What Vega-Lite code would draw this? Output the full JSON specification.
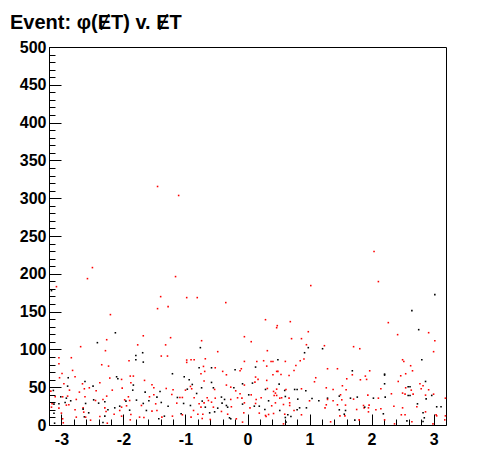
{
"$schema": "https://vega.github.io/schema/vega-lite/v6.json",
"width": 397, "height": 378,
"autosize": {"type": "none"},
"padding": {"left": 49, "top": 47, "right": 50, "bottom": 47},
"background": "white",
"title": {"text": "Event: φ(ɆT) v. ɆT", "anchor": "start", "frame": "group", "dx": -39, "offset": 6, "font": "Liberation Sans", "fontSize": 20, "fontWeight": "bold", "color": "black"},
"data": {"values": [
{"x":-3.08,"y":183,"c":"r"},{"x":-3.16,"y":177.7,"c":"k"},{"x":-1.40,"y":169.8,"c":"r"},{"x":-1.28,"y":156.6,"c":"r"},{"x":-1.45,"y":153.9,"c":"r"},{"x":-2.21,"y":146,"c":"r"},{"x":-2.13,"y":122,"c":"k"},{"x":-1.68,"y":118,"c":"r"},{"x":-2.27,"y":112.8,"c":"r"},{"x":-2.42,"y":108.9,"c":"k"},{"x":-1.24,"y":115.5,"c":"r"},{"x":-1.77,"y":106,"c":"r"},{"x":-1.32,"y":106,"c":"r"},{"x":-2.69,"y":103.6,"c":"r"},{"x":-2.29,"y":98.3,"c":"r"},{"x":-1.69,"y":95.6,"c":"k"},
{"x":-1.45,"y":315.5,"c":"r"},{"x":-1.11,"y":303.6,"c":"r"},{"x":2.04,"y":229.4,"c":"r"},{"x":-2.50,"y":208.2,"c":"r"},{"x":-2.58,"y":193.6,"c":"r"},{"x":-1.16,"y":196.3,"c":"r"},{"x":1.02,"y":184.4,"c":"r"},{"x":2.11,"y":189.7,"c":"r"},
{"x":-0.98,"y":168.5,"c":"r"},{"x":-0.81,"y":168.5,"c":"r"},{"x":-0.35,"y":161.9,"c":"r"},{"x":0.29,"y":139.3,"c":"r"},{"x":0.48,"y":131.4,"c":"r"},{"x":0.47,"y":128.7,"c":"r"},{"x":0.69,"y":136.7,"c":"r"},{"x":0.98,"y":123.4,"c":"r"},{"x":-0.05,"y":116.8,"c":"r"},{"x":0.06,"y":110.2,"c":"r"},{"x":-0.74,"y":111.5,"c":"r"},{"x":0.71,"y":114.2,"c":"r"},{"x":0.87,"y":114.2,"c":"r"},{"x":0.95,"y":106.2,"c":"r"},{"x":-0.76,"y":102.3,"c":"k"},{"x":-0.48,"y":97,"c":"r"},{"x":0.32,"y":98.3,"c":"r"},{"x":0.98,"y":102.3,"c":"k"},{"x":0.92,"y":95.6,"c":"k"},
{"x":3.02,"y":172.4,"c":"k"},{"x":2.65,"y":151.3,"c":"k"},{"x":2.27,"y":135.4,"c":"r"},{"x":2.76,"y":126.1,"c":"k"},{"x":2.92,"y":122.1,"c":"r"},{"x":2.42,"y":119.5,"c":"r"},{"x":3.02,"y":111.5,"c":"r"},{"x":1.24,"y":104.9,"c":"r"},{"x":1.21,"y":100.9,"c":"k"},{"x":1.71,"y":103.6,"c":"r"},{"x":1.81,"y":100.9,"c":"r"},{"x":3.0,"y":97,"c":"r"},
{"x":-3.04,"y":89,"c":"r"},{"x":-2.84,"y":89,"c":"r"},{"x":-3.04,"y":81,"c":"r"},{"x":-1.80,"y":92,"c":"k"},{"x":-1.80,"y":86.3,"c":"k"},{"x":-1.68,"y":83.2,"c":"k"},{"x":-1.39,"y":91.2,"c":"r"},{"x":-1.29,"y":91.2,"c":"r"},{"x":-1.91,"y":85,"c":"r"},{"x":-2.35,"y":79.7,"c":"r"},{"x":-2.24,"y":77.9,"c":"r"},{"x":-2.82,"y":72.2,"c":"r"},{"x":-2.99,"y":68.2,"c":"r"},{"x":-2.89,"y":62.5,"c":"k"},{"x":-2.78,"y":63.8,"c":"r"},{"x":-3.03,"y":62.5,"c":"r"},{"x":-2.11,"y":63.8,"c":"k"},{"x":-2.09,"y":61.1,"c":"k"},{"x":-2.22,"y":62.1,"c":"r"},{"x":-1.89,"y":64.7,"c":"r"},{"x":-1.84,"y":64.7,"c":"r"},{"x":-1.21,"y":67.8,"c":"k"},{"x":-2.62,"y":57.6,"c":"k"},{"x":-2.49,"y":51.4,"c":"k"},{"x":-2.96,"y":54.5,"c":"r"},{"x":-2.66,"y":54.5,"c":"r"},{"x":-2.38,"y":55.8,"c":"r"},{"x":-2.03,"y":60.3,"c":"r"},{"x":-1.88,"y":55.8,"c":"r"},{"x":-1.66,"y":59,"c":"r"},{"x":-1.84,"y":52.8,"c":"k"},{"x":-1.54,"y":53.2,"c":"r"},{"x":-1.51,"y":49.2,"c":"r"},{"x":-3.13,"y":45.7,"c":"k"},{"x":-3.17,"y":44.8,"c":"r"},{"x":-2.90,"y":51.4,"c":"k"},{"x":-2.87,"y":46.1,"c":"r"},{"x":-2.71,"y":43.5,"c":"r"},{"x":-2.63,"y":47.9,"c":"r"},{"x":-2.55,"y":49.2,"c":"r"},{"x":-2.44,"y":45.2,"c":"r"},{"x":-2.18,"y":46.1,"c":"r"},{"x":-2.02,"y":48.8,"c":"r"},{"x":-1.85,"y":46.1,"c":"k"},{"x":-1.65,"y":43.5,"c":"k"},{"x":-1.41,"y":44.4,"c":"k"},{"x":-1.31,"y":48.3,"c":"r"},{"x":-1.20,"y":46.6,"c":"r"},{"x":-1.22,"y":40.4,"c":"r"},{"x":-1.58,"y":37.3,"c":"r"},{"x":-1.51,"y":40,"c":"r"},{"x":-1.46,"y":36.9,"c":"k"},{"x":-1.13,"y":36.4,"c":"k"},{"x":-3.10,"y":37.3,"c":"r"},{"x":-3.01,"y":37.3,"c":"k"},{"x":-2.98,"y":37.3,"c":"r"},{"x":-2.92,"y":35.5,"c":"k"},{"x":-2.90,"y":38.2,"c":"r"},{"x":-2.76,"y":33.8,"c":"r"},{"x":-2.62,"y":37.3,"c":"r"},{"x":-1.92,"y":37.3,"c":"r"},{"x":-1.79,"y":32.9,"c":"k"},{"x":-2.27,"y":38.2,"c":"r"},{"x":-2.94,"y":29.8,"c":"k"},{"x":-2.85,"y":32,"c":"k"},{"x":-2.48,"y":33.3,"c":"k"},{"x":-2.45,"y":32.4,"c":"r"},{"x":-2.33,"y":33.8,"c":"r"},{"x":-1.98,"y":33.3,"c":"r"},{"x":-1.96,"y":31.6,"c":"k"},{"x":-1.90,"y":32.4,"c":"r"},{"x":-1.59,"y":32,"c":"k"},{"x":-1.14,"y":28.9,"c":"r"},{"x":-1.39,"y":29.8,"c":"k"},{"x":-2.30,"y":30.7,"c":"k"},{"x":-2.40,"y":28.9,"c":"k"},{"x":-2.65,"y":22.7,"c":"r"},{"x":-3.15,"y":28,"c":"r"},{"x":-3.12,"y":27.6,"c":"k"},{"x":-3.04,"y":28,"c":"k"},{"x":-2.92,"y":26.3,"c":"r"},{"x":-2.88,"y":26.7,"c":"r"},{"x":-3.04,"y":22.3,"c":"r"},{"x":-2.61,"y":28.5,"c":"k"},{"x":-2.14,"y":22.7,"c":"k"},{"x":-2.30,"y":22.7,"c":"r"},{"x":-1.95,"y":25.4,"c":"r"},{"x":-2.06,"y":24.9,"c":"k"},{"x":-2.03,"y":23.6,"c":"r"},{"x":-1.71,"y":25.8,"c":"r"},{"x":-1.68,"y":28.5,"c":"k"},{"x":-1.48,"y":28,"c":"r"},{"x":-1.28,"y":24.9,"c":"k"},{"x":-3.16,"y":23.6,"c":"r"},{"x":-2.78,"y":20.1,"c":"r"},{"x":-3.00,"y":15.7,"c":"r"},{"x":-3.12,"y":15.6,"c":"k"},{"x":-2.65,"y":21,"c":"k"},{"x":-2.64,"y":17,"c":"r"},{"x":-2.56,"y":16.1,"c":"k"},{"x":-2.25,"y":20.1,"c":"k"},{"x":-2.28,"y":17.9,"c":"r"},{"x":-2.15,"y":14.3,"c":"r"},{"x":-2.06,"y":19.2,"c":"r"},{"x":-1.90,"y":19.6,"c":"k"},{"x":-1.88,"y":13.9,"c":"r"},{"x":-1.63,"y":19.2,"c":"k"},{"x":-1.54,"y":18.3,"c":"r"},{"x":-1.46,"y":19.2,"c":"r"},{"x":-1.21,"y":11.7,"c":"r"},{"x":-2.76,"y":10.4,"c":"r"},{"x":-2.63,"y":10.8,"c":"k"},{"x":-2.61,"y":10.4,"c":"r"},{"x":-2.38,"y":11.3,"c":"r"},{"x":-2.30,"y":11.7,"c":"k"},{"x":-2.03,"y":11.7,"c":"r"},{"x":-1.74,"y":10.4,"c":"r"},{"x":-1.67,"y":9.9,"c":"r"},{"x":-1.34,"y":11.7,"c":"k"},{"x":-1.38,"y":10.4,"c":"r"},{"x":-1.43,"y":8.2,"c":"k"},{"x":-2.98,"y":8.2,"c":"r"},{"x":-2.97,"y":2.9,"c":"r"},{"x":-3.11,"y":2.4,"c":"k"},{"x":-2.53,"y":6.4,"c":"r"},{"x":-2.33,"y":3.3,"c":"k"},{"x":-2.26,"y":2.4,"c":"r"},{"x":-1.89,"y":6.8,"c":"r"},
{"x":-0.98,"y":85.9,"c":"r"},{"x":-0.98,"y":82.8,"c":"r"},{"x":-0.91,"y":86.3,"c":"r"},{"x":-0.86,"y":86.3,"c":"r"},{"x":-0.68,"y":87.6,"c":"r"},{"x":-0.05,"y":84.1,"c":"r"},{"x":0.15,"y":84.1,"c":"r"},{"x":0.26,"y":85,"c":"r"},{"x":0.38,"y":84.1,"c":"r"},{"x":0.41,"y":84.1,"c":"r"},{"x":0.49,"y":86.3,"c":"k"},{"x":0.61,"y":84.1,"c":"r"},{"x":0.85,"y":85,"c":"r"},{"x":0.91,"y":87.2,"c":"r"},{"x":0.78,"y":78.8,"c":"r"},{"x":-0.78,"y":75.7,"c":"k"},{"x":-0.71,"y":77.5,"c":"r"},{"x":-0.58,"y":75.7,"c":"k"},{"x":-0.52,"y":75.7,"c":"r"},{"x":-0.75,"y":67.8,"c":"r"},{"x":-0.69,"y":70.9,"c":"r"},{"x":-0.40,"y":70.9,"c":"r"},{"x":-0.20,"y":73.1,"c":"k"},{"x":-0.12,"y":71.7,"c":"r"},{"x":-0.10,"y":74.4,"c":"r"},{"x":0.13,"y":76.6,"c":"k"},{"x":0.31,"y":77.9,"c":"r"},{"x":0.47,"y":70.9,"c":"r"},{"x":0.49,"y":70.9,"c":"r"},{"x":0.41,"y":66.4,"c":"r"},{"x":0.54,"y":66.9,"c":"r"},{"x":0.67,"y":65.5,"c":"r"},{"x":0.75,"y":72.2,"c":"r"},{"x":-1.02,"y":63.8,"c":"k"},{"x":-0.94,"y":59.8,"c":"k"},{"x":-0.70,"y":58.1,"c":"r"},{"x":-0.58,"y":56.3,"c":"k"},{"x":-0.34,"y":66.4,"c":"r"},{"x":0.13,"y":63.4,"c":"r"},{"x":0.31,"y":59,"c":"r"},{"x":0.17,"y":60.3,"c":"r"},{"x":-0.89,"y":53.6,"c":"k"},{"x":-0.92,"y":51,"c":"r"},{"x":-1.00,"y":46.1,"c":"r"},{"x":-0.97,"y":47.4,"c":"k"},{"x":-0.90,"y":47.9,"c":"r"},{"x":-0.74,"y":49.2,"c":"k"},{"x":-0.55,"y":49.2,"c":"k"},{"x":-0.53,"y":47,"c":"r"},{"x":-0.34,"y":52.8,"c":"r"},{"x":-0.27,"y":50.1,"c":"r"},{"x":-0.22,"y":49.2,"c":"k"},{"x":-0.08,"y":54.5,"c":"k"},{"x":-0.05,"y":52.8,"c":"r"},{"x":-0.19,"y":45.2,"c":"r"},{"x":0.08,"y":55.4,"c":"k"},{"x":0.12,"y":56.7,"c":"r"},{"x":0.29,"y":47,"c":"k"},{"x":0.32,"y":48.3,"c":"r"},{"x":0.51,"y":54.1,"c":"k"},{"x":0.47,"y":47.4,"c":"r"},{"x":0.42,"y":44.4,"c":"r"},{"x":0.43,"y":39.1,"c":"r"},{"x":0.60,"y":45.7,"c":"k"},{"x":0.62,"y":47,"c":"r"},{"x":0.76,"y":47,"c":"k"},{"x":0.80,"y":47,"c":"k"},{"x":0.87,"y":47.9,"c":"r"},{"x":0.94,"y":45.2,"c":"k"},{"x":-1.09,"y":36.4,"c":"r"},{"x":-1.05,"y":36.4,"c":"r"},{"x":-0.82,"y":41.7,"c":"k"},{"x":-0.86,"y":36,"c":"r"},{"x":-0.73,"y":31.6,"c":"k"},{"x":-0.65,"y":36,"c":"r"},{"x":-0.63,"y":32.4,"c":"r"},{"x":-0.52,"y":35.5,"c":"r"},{"x":-0.42,"y":36.9,"c":"k"},{"x":-0.37,"y":33.8,"c":"k"},{"x":-0.27,"y":33.8,"c":"r"},{"x":-0.16,"y":36,"c":"r"},{"x":-0.12,"y":41.3,"c":"r"},{"x":-0.09,"y":35.5,"c":"r"},{"x":0.02,"y":39.9,"c":"k"},{"x":0.06,"y":39.9,"c":"r"},{"x":0.14,"y":33.8,"c":"r"},{"x":0.13,"y":28.5,"c":"r"},{"x":0.22,"y":36,"c":"r"},{"x":0.34,"y":32,"c":"k"},{"x":0.45,"y":42.2,"c":"r"},{"x":0.47,"y":39.1,"c":"r"},{"x":0.52,"y":35.5,"c":"r"},{"x":0.55,"y":36,"c":"r"},{"x":0.61,"y":37.7,"c":"k"},{"x":0.67,"y":35.5,"c":"r"},{"x":0.68,"y":29.3,"c":"r"},{"x":0.81,"y":34.2,"c":"k"},{"x":1.00,"y":32,"c":"r"},{"x":1.04,"y":35.1,"c":"k"},{"x":-1.03,"y":28.5,"c":"k"},{"x":-0.92,"y":25.8,"c":"k"},{"x":-0.78,"y":28,"c":"r"},{"x":-0.70,"y":29.3,"c":"r"},{"x":-0.75,"y":23.6,"c":"r"},{"x":-0.68,"y":23.6,"c":"k"},{"x":-0.58,"y":30.2,"c":"r"},{"x":-0.55,"y":23.6,"c":"r"},{"x":-0.48,"y":22.3,"c":"k"},{"x":-0.41,"y":28.9,"c":"k"},{"x":-0.34,"y":25.8,"c":"k"},{"x":-0.32,"y":23.6,"c":"k"},{"x":-0.26,"y":24.1,"c":"r"},{"x":-0.08,"y":27.6,"c":"k"},{"x":-0.05,"y":29.3,"c":"r"},{"x":0.04,"y":22.7,"c":"r"},{"x":0.11,"y":24.9,"c":"k"},{"x":0.19,"y":24.9,"c":"k"},{"x":0.39,"y":25.4,"c":"r"},{"x":0.28,"y":20.5,"c":"k"},{"x":0.45,"y":29.3,"c":"r"},{"x":0.52,"y":19.2,"c":"k"},{"x":0.58,"y":27.1,"c":"r"},{"x":0.75,"y":19.2,"c":"r"},{"x":0.68,"y":25.8,"c":"r"},{"x":0.80,"y":20.1,"c":"k"},{"x":0.84,"y":22.7,"c":"k"},{"x":0.95,"y":22.7,"c":"k"},{"x":-1.07,"y":14.8,"c":"k"},{"x":-1.05,"y":13.5,"c":"r"},{"x":-0.87,"y":19.2,"c":"r"},{"x":-0.80,"y":14.3,"c":"r"},{"x":-0.72,"y":14.3,"c":"r"},{"x":-0.61,"y":16.1,"c":"k"},{"x":-0.53,"y":17.4,"c":"k"},{"x":-0.42,"y":17.9,"c":"r"},{"x":-0.32,"y":14.3,"c":"r"},{"x":-0.06,"y":16.1,"c":"r"},{"x":0.19,"y":15.7,"c":"r"},{"x":0.30,"y":11.3,"c":"r"},{"x":0.34,"y":13.9,"c":"r"},{"x":0.42,"y":15.2,"c":"r"},{"x":0.60,"y":14.3,"c":"r"},{"x":0.65,"y":13.5,"c":"k"},{"x":0.70,"y":11.3,"c":"k"},{"x":0.87,"y":13.5,"c":"r"},{"x":-0.91,"y":10.4,"c":"r"},{"x":-0.73,"y":8.6,"c":"r"},{"x":-0.60,"y":7.3,"c":"r"},{"x":-0.29,"y":9.5,"c":"k"},{"x":-0.27,"y":8.2,"c":"k"},{"x":-0.18,"y":8.2,"c":"r"},{"x":-0.08,"y":3.8,"c":"r"},{"x":0.29,"y":12.6,"c":"r"},{"x":0.61,"y":9.9,"c":"k"},{"x":0.58,"y":1.5,"c":"r"},{"x":0.62,"y":3.8,"c":"k"},
{"x":1.10,"y":62.5,"c":"r"},{"x":1.08,"y":57.2,"c":"r"},{"x":1.29,"y":74.4,"c":"r"},{"x":1.45,"y":74.4,"c":"r"},{"x":1.69,"y":71.7,"c":"k"},{"x":1.69,"y":66.4,"c":"r"},{"x":1.90,"y":64.7,"c":"r"},{"x":1.92,"y":60.3,"c":"r"},{"x":1.82,"y":59.8,"c":"r"},{"x":1.97,"y":71.7,"c":"r"},{"x":2.21,"y":67.3,"c":"k"},{"x":2.21,"y":66,"c":"k"},{"x":2.50,"y":86.3,"c":"r"},{"x":2.52,"y":84.1,"c":"r"},{"x":2.81,"y":86.3,"c":"k"},{"x":2.63,"y":78.4,"c":"r"},{"x":2.66,"y":71.7,"c":"r"},{"x":2.55,"y":67.8,"c":"r"},{"x":2.47,"y":65.1,"c":"r"},{"x":1.60,"y":61.1,"c":"r"},{"x":1.27,"y":49.2,"c":"r"},{"x":1.53,"y":51.9,"c":"r"},{"x":1.38,"y":47,"c":"r"},{"x":1.59,"y":46.6,"c":"r"},{"x":2.21,"y":54.5,"c":"k"},{"x":2.15,"y":47.9,"c":"r"},{"x":2.43,"y":57.6,"c":"r"},{"x":2.55,"y":49.2,"c":"r"},{"x":2.59,"y":50.6,"c":"k"},{"x":2.62,"y":50.6,"c":"k"},{"x":2.64,"y":46.1,"c":"r"},{"x":2.78,"y":54.5,"c":"r"},{"x":2.87,"y":57.6,"c":"k"},{"x":2.83,"y":51.9,"c":"r"},{"x":2.80,"y":47.9,"c":"r"},{"x":2.92,"y":46.6,"c":"r"},{"x":1.15,"y":32,"c":"k"},{"x":1.29,"y":35.5,"c":"k"},{"x":1.29,"y":33.8,"c":"r"},{"x":1.38,"y":32,"c":"r"},{"x":1.50,"y":40,"c":"r"},{"x":1.48,"y":38.2,"c":"k"},{"x":1.52,"y":33.3,"c":"r"},{"x":1.66,"y":35.5,"c":"k"},{"x":1.71,"y":34.2,"c":"r"},{"x":1.77,"y":36.9,"c":"k"},{"x":1.94,"y":39.5,"c":"r"},{"x":2.03,"y":35.5,"c":"k"},{"x":2.11,"y":35.5,"c":"r"},{"x":2.22,"y":36.9,"c":"k"},{"x":2.32,"y":41.3,"c":"r"},{"x":2.50,"y":42.2,"c":"r"},{"x":2.54,"y":40.8,"c":"r"},{"x":2.59,"y":39.1,"c":"k"},{"x":2.62,"y":39.1,"c":"k"},{"x":2.67,"y":40.8,"c":"r"},{"x":2.87,"y":39.5,"c":"r"},{"x":2.88,"y":34.6,"c":"k"},{"x":2.97,"y":39.1,"c":"k"},{"x":3.00,"y":40.8,"c":"r"},{"x":3.19,"y":35.5,"c":"r"},{"x":1.25,"y":22.7,"c":"r"},{"x":1.27,"y":26.7,"c":"r"},{"x":1.45,"y":26.7,"c":"r"},{"x":1.58,"y":26.3,"c":"r"},{"x":1.48,"y":20.1,"c":"k"},{"x":1.76,"y":20.5,"c":"r"},{"x":1.87,"y":25.8,"c":"r"},{"x":1.88,"y":22.7,"c":"r"},{"x":1.89,"y":23.6,"c":"k"},{"x":1.96,"y":26.3,"c":"r"},{"x":1.95,"y":22.7,"c":"r"},{"x":2.15,"y":21.4,"c":"r"},{"x":2.36,"y":24.9,"c":"r"},{"x":2.50,"y":22.7,"c":"r"},{"x":2.74,"y":28,"c":"k"},{"x":2.73,"y":24.1,"c":"r"},{"x":3.05,"y":24.1,"c":"k"},{"x":3.12,"y":24.1,"c":"k"},{"x":1.58,"y":19.2,"c":"k"},{"x":1.49,"y":12.1,"c":"r"},{"x":1.56,"y":14.3,"c":"k"},{"x":1.57,"y":12.1,"c":"r"},{"x":1.95,"y":17.4,"c":"r"},{"x":2.07,"y":20.1,"c":"r"},{"x":2.19,"y":14.8,"c":"k"},{"x":2.48,"y":13.5,"c":"r"},{"x":2.54,"y":13.5,"c":"r"},{"x":2.87,"y":17.4,"c":"r"},{"x":2.83,"y":16.1,"c":"k"},{"x":2.85,"y":9.5,"c":"k"},{"x":3.04,"y":13.5,"c":"r"},{"x":3.05,"y":12.1,"c":"r"},{"x":3.19,"y":12.1,"c":"r"},{"x":1.34,"y":4.2,"c":"r"},{"x":1.73,"y":6.4,"c":"k"},{"x":1.80,"y":6.8,"c":"r"},{"x":2.21,"y":6.8,"c":"r"},{"x":2.37,"y":1.5,"c":"r"},{"x":2.57,"y":5.5,"c":"k"},{"x":2.65,"y":4.2,"c":"r"},{"x":2.83,"y":4.6,"c":"k"},{"x":2.99,"y":1.5,"c":"r"},{"x":3.18,"y":6.8,"c":"r"}
]},
"mark": {"type": "square", "size": 2.5, "opacity": 1, "strokeWidth": 0},
"encoding": {
  "x": {"field": "x", "type": "quantitative",
        "scale": {"domain": [-3.2, 3.2], "nice": false, "zero": false},
        "axis": {"title": null, "values": [-3,-2.8,-2.6,-2.4,-2.2,-2,-1.8,-1.6,-1.4,-1.2,-1,-0.8,-0.6,-0.4,-0.2,0,0.2,0.4,0.6,0.8,1,1.2,1.4,1.6,1.8,2,2.2,2.4,2.6,2.8,3],
                 "labelExpr": "abs(datum.value - round(datum.value)) < 0.01 ? '' + round(datum.value) : ''",
                 "tickSize": {"condition": {"test": "abs(datum.value - round(datum.value)) < 0.01", "value": -11}, "value": -6},
                 "labelOverlap": false, "labelFlush": false, "labelPadding": 17}},
  "y": {"field": "y", "type": "quantitative",
        "scale": {"domain": [0, 500], "nice": false, "zero": true},
        "axis": {"title": null, "values": [0,10,20,30,40,50,60,70,80,90,100,110,120,130,140,150,160,170,180,190,200,210,220,230,240,250,260,270,280,290,300,310,320,330,340,350,360,370,380,390,400,410,420,430,440,450,460,470,480,490,500],
                 "labelExpr": "datum.value % 50 === 0 ? '' + datum.value : ''",
                 "tickSize": {"condition": {"test": "datum.value % 50 === 0", "value": -12}, "value": -6},
                 "labelOverlap": false, "labelPadding": 15}},
  "color": {"field": "c", "type": "nominal", "scale": {"domain": ["k", "r"], "range": ["#000000", "#ff0000"]}, "legend": null}
},
"config": {
  "view": {"stroke": "black", "strokeWidth": 1},
  "axis": {"grid": false, "domainColor": "black", "tickColor": "black", "labelColor": "black", "labelFont": "Liberation Sans", "labelFontWeight": "bold", "labelFontSize": 16, "tickWidth": 1, "domainWidth": 1}
}
}
